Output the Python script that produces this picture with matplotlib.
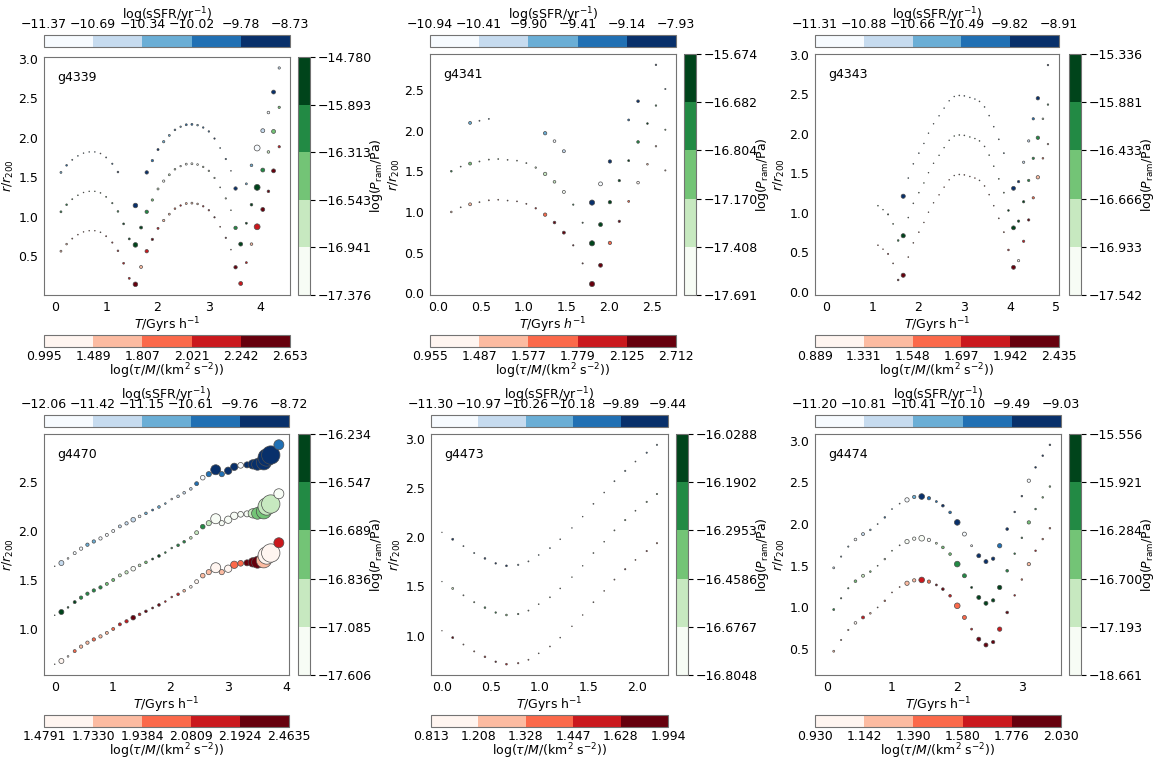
import numpy as np
import matplotlib
matplotlib.use('Agg')
import matplotlib.pyplot as plt
from matplotlib.colors import ListedColormap, BoundaryNorm
import matplotlib.cm as cm

# ---------------- data ----------------
names = ["g4339", "g4341", "g4343", "g4470", "g4473", "g4474"]
# class index 0-4 of each point in its colour bar; -1 = no value (not drawn)

# g4339
T1 = [0.12,0.23,0.34,0.45,0.56,0.67,0.78,0.89,1.00,1.12,1.23,1.34,1.45,1.57,1.68,1.79,1.90,2.01,2.12,2.23,
      2.34,2.45,2.56,2.67,2.78,2.89,3.00,3.11,3.22,3.33,3.43,3.52,3.62,3.73,3.83,3.94,4.05,4.16,4.26,4.37]
R1 = [1.06,1.15,1.22,1.27,1.305,1.32,1.32,1.30,1.25,1.17,1.065,0.907,0.716,0.64,0.86,1.06,1.21,1.35,1.45,1.53,
      1.60,1.64,1.665,1.67,1.66,1.63,1.58,1.49,1.37,1.23,1.08,0.856,0.65,0.915,1.15,1.37,1.59,1.82,2.08,2.386]
S1 = [2,1.5,0.6,0.4,0.3,0.3,0.3,0.4,0.6,0.9,1.5,1.8,2,11,4.5,6,2.8,2.2,2.8,2,
      1.5,1.2,2,2,1.5,1.2,1.2,1,0.5,1,0.4,6,8,2,3.5,18,8,3.5,8,2.8]
CB1 = [2,3,2,2,2,2,2,2,2,3,4,-1,-1,4,-1,4,3,4,2,2,3,2,3,3,2,3,3,4,2,3,1,4,-1,2,2,0,1,0,4,1]
CG1 = [3,3,2,2,2,2,2,2,2,3,3,4,4,4,4,3,2,1,0,1,1,0,0,0,0,1,1,1,1,1,1,3,4,4,4,4,3,1,2,2]
CR1 = [1,1,2,2,2,2,2,2,3,3,3,3,3,4,1,3,4,3,1,1,2,3,1,1,1,3,3,4,2,4,1,4,3,3,1,3,4,4,4,3]

# g4341
T2 = [0.15,0.26,0.37,0.48,0.59,0.70,0.81,0.92,1.03,1.14,1.25,1.36,1.47,1.58,1.69,1.80,1.90,2.01,2.12,2.23,
      2.34,2.45,2.55,2.66]
R2 = [1.50,1.557,1.594,1.62,1.643,1.65,1.64,1.63,1.60,1.545,1.467,1.37,1.246,1.09,0.868,0.615,0.845,1.12,1.385,1.63,
      1.86,2.086,2.307,2.01]
S2 = [1.5,0.5,4.5,0.6,0.6,0.5,0.5,0.5,0.6,1.2,6,3.7,4.7,1,0.8,14,8,5.8,2.8,2,3.7,1.5,1.2,0.8]
CB2 = [-1,-1,2,2,2,-1,-1,-1,-1,-1,2,0,1,-1,-1,4,0,4,-1,3,4,-1,4,2]
CG2 = [3,3,2,2,2,2,1,1,1,1,1,1,0,3,4,4,4,4,4,4,3,4,3,2]
CR2 = [1,1,1,1,2,2,3,3,3,3,2,4,4,4,4,4,4,2,4,2,0,1,1,1]

# g4343
T3 = [1.12,1.23,1.34,1.45,1.56,1.67,1.78,1.89,2.01,2.12,2.22,2.33,2.45,2.56,2.67,2.78,2.89,3.00,3.12,3.23,
      3.33,3.44,3.54,3.64,3.75,3.86,3.96,4.07,4.18,4.29,4.40,4.50,4.60,4.71,4.82]
R3 = [1.09,1.04,0.98,0.86,0.65,0.71,0.94,1.12,1.255,1.378,1.508,1.627,1.728,1.825,1.918,1.972,1.985,1.98,1.96,1.94,
      1.91,1.84,1.73,1.59,1.43,1.255,1.03,0.81,0.895,1.14,1.41,1.69,1.95,2.19,2.37]
S3 = [0.4,0.3,0.8,0.5,1.5,9,0.4,0.4,0.4,0.3,0.3,0.3,0.3,0.3,0.3,0.3,0.4,0.4,0.3,0.3,
      0.4,0.4,0.4,0.4,0.5,0.6,1.5,8,2.8,2.8,2.8,2.8,6,1.5,1.2]
CB3 = [-1,-1,-1,-1,-1,4,2,2,2,2,2,2,2,2,2,2,2,2,2,2,2,2,2,2,2,2,-1,4,4,1,1,3,4,-1,4]
CG3 = [2,2,4,2,3,4,2,2,2,2,2,2,2,2,2,2,2,2,2,2,2,2,2,2,2,2,4,4,4,4,3,3,3,1,3]
CR3 = [2,2,3,2,4,4,2,2,2,2,2,2,2,2,2,2,2,2,2,2,2,2,2,2,2,2,3,4,0,3,4,2,1,2,1]

# g4470
T4 = [0.0,0.115,0.23,0.345,0.455,0.565,0.675,0.79,0.90,1.01,1.125,1.24,1.355,1.465,1.575,1.69,1.80,1.91,2.02,2.13,
      2.235,2.35,2.45,2.556,2.66,2.78,2.885,2.995,3.10,3.21,3.32,3.42,3.50,3.61,3.66,3.73,3.87]
R4 = [1.14,1.173,1.22,1.274,1.32,1.36,1.393,1.424,1.46,1.50,1.547,1.578,1.615,1.649,1.68,1.714,1.745,1.78,1.826,1.854,
      1.89,1.93,1.983,2.044,2.08,2.125,2.08,2.115,2.155,2.17,2.175,2.18,2.18,2.20,2.25,2.275,2.38]
S4 = [0.3,13,1.5,4.7,5.8,5.8,5.8,5.8,4.7,4.7,4.7,5.8,11,3.7,3.7,2,3.7,1.5,1.5,3.7,
      3.7,3.7,8,11,14,52,14,28,28,17,19,45,71,117,156,175,52]
CB4 = [0,1,0,0,0,2,2,0,0,0,1,1,1,0,2,3,2,2,0,1,1,1,3,0,3,4,3,4,4,0,4,4,4,4,4,4,3]
CG4 = [4,4,4,4,3,3,3,3,2,2,1,1,0,1,2,4,4,3,3,3,3,1,1,3,1,0,0,0,0,0,0,1,2,2,1,1,0]
CR4 = [0,0,0,2,1,1,2,1,1,2,3,3,4,3,4,4,4,3,3,3,1,0,0,1,1,0,1,0,2,2,4,4,4,1,0,0,3]

# g4473
T5 = [0.0,0.11,0.22,0.33,0.44,0.55,0.66,0.78,0.885,0.99,1.105,1.21,1.33,1.44,1.55,1.66,1.765,1.875,1.98,2.095,2.2]
R5 = [1.55,1.48,1.41,1.34,1.285,1.235,1.21,1.22,1.255,1.32,1.39,1.48,1.595,1.71,1.84,1.955,2.07,2.175,2.27,2.36,2.44]
S5 = [0.2,2,0.6,0.7,1.5,1.2,1.6,1,0.6,0.4,0.5,0.4,0.3,0.3,0.5,0.4,0.6,0.9,0.5,0.9,0.9]
CB5 = [0,4,2,2,4,4,4,2,2,2,2,1,1,1,1,1,2,2,2,3,2]
CG5 = [1,1,1,2,3,3,2,3,2,1,1,1,1,1,1,1,2,2,2,2,2]
CR5 = [1,4,2,2,3,4,3,3,2,1,1,1,1,1,1,1,2,4,2,3,2]

# g4474
T6 = [0.107,0.22,0.33,0.44,0.556,0.668,0.78,0.89,1.0,1.117,1.23,1.34,1.455,1.566,1.68,1.78,1.89,2.0,2.11,2.22,
      2.33,2.44,2.55,2.65,2.765,2.88,2.99,3.097,3.2,3.31,3.42]
R6 = [0.975,1.11,1.23,1.315,1.38,1.43,1.5,1.58,1.68,1.745,1.79,1.825,1.83,1.81,1.77,1.72,1.64,1.52,1.38,1.24,
      1.12,1.05,1.085,1.24,1.44,1.645,1.835,2.02,2.18,2.32,2.45]
S6 = [2,0.9,0.9,3.7,4.7,1.5,0.5,1.4,0.5,0.5,9.7,5.8,16.7,5.8,2,3.7,3.7,16.7,8.3,2,
      8.3,8.3,5.8,9.7,3.7,1.4,1.4,5.8,1.4,1.4,1.4]
CB6 = [1,2,2,0,1,2,2,3,2,2,0,2,4,3,3,4,3,4,0,0,4,4,4,3,4,4,4,0,4,4,4]
CG6 = [3,4,3,2,1,2,2,1,2,2,0,0,0,0,1,2,2,3,3,4,4,4,4,4,3,3,3,2,3,2,2]
CR6 = [1,1,1,0,3,1,2,2,2,2,1,1,3,2,4,4,3,2,2,3,4,4,4,3,4,3,2,1,3,2,2]

# colour-bar boundaries (as printed)
sfr_bounds = [
    ["-11.37","-10.69","-10.34","-10.02","-9.78","-8.73"],
    ["-10.94","-10.41","-9.90","-9.41","-9.14","-7.93"],
    ["-11.31","-10.88","-10.66","-10.49","-9.82","-8.91"],
    ["-12.06","-11.42","-11.15","-10.61","-9.76","-8.72"],
    ["-11.30","-10.97","-10.26","-10.18","-9.89","-9.44"],
    ["-11.20","-10.81","-10.41","-10.10","-9.49","-9.03"],
]
pram_bounds = [
    ["-17.376","-16.941","-16.543","-16.313","-15.893","-14.780"],
    ["-17.691","-17.408","-17.170","-16.804","-16.682","-15.674"],
    ["-17.542","-16.933","-16.666","-16.433","-15.881","-15.336"],
    ["-17.606","-17.085","-16.836","-16.689","-16.547","-16.234"],
    ["-16.8048","-16.6767","-16.4586","-16.2953","-16.1902","-16.0288"],
    ["-18.661","-17.193","-16.700","-16.284","-15.921","-15.556"],
]
tau_bounds = [
    ["0.995","1.489","1.807","2.021","2.242","2.653"],
    ["0.955","1.487","1.577","1.779","2.125","2.712"],
    ["0.889","1.331","1.548","1.697","1.942","2.435"],
    ["1.4791","1.7330","1.9384","2.0809","2.1924","2.4635"],
    ["0.813","1.208","1.328","1.447","1.628","1.994"],
    ["0.930","1.142","1.390","1.580","1.776","2.030"],
]

Ts = [T1, T2, T3, T4, T5, T6]
Rs = [R1, R2, R3, R4, R5, R6]
Ss = [S1, S2, S3, S4, S5, S6]
CBs = [CB1, CB2, CB3, CB4, CB5, CB6]
CGs = [CG1, CG2, CG3, CG4, CG5, CG6]
CRs = [CR1, CR2, CR3, CR4, CR5, CR6]

# ---------------- layout ----------------
W, H = 1159, 760
plt.rcParams['font.family'] = ['DejaVu Sans']
plt.rcParams['font.size'] = 9
fig = plt.figure(figsize=(W/100, H/100), dpi=100)

def box(l, t, r, b):
    return [l/W, 1 - b/H, (r-l)/W, (b-t)/H]

# (ax left, ax top, ax right, ax bottom, top cbar top, right cbar left, bottom cbar top)
layout = [
    (44, 57, 290, 295, 35, 298, 335),
    (430, 54, 676, 295, 35, 684, 335),
    (815, 54, 1059, 295, 35, 1069, 335),
    (44, 434, 289, 675, 415, 298, 715),
    (431, 434, 668, 675, 415, 676, 715),
    (815, 434, 1061, 675, 415, 1069, 715),
]
xlims = [(-0.21, 4.58), (-0.10, 2.785), (-0.25, 5.06), (-0.185, 4.045), (-0.112, 2.313), (-0.18, 3.59)]
ylims = [(0.004, 3.025), (-0.02, 2.94), (-0.04, 3.01), (0.53, 2.99), (0.60, 3.05), (0.19, 3.08)]
xlabels = ["$T$/Gyrs h$^{-1}$", "$T$/Gyrs $h^{-1}$", "$T$/Gyrs h$^{-1}$",
           "$T$/Gyrs h$^{-1}$", "$T$/Gyrs h$^{-1}$", "$T$/Gyrs h$^{-1}$"]

blues = plt.get_cmap('Blues')(np.linspace(0, 1, 5))
greens = plt.get_cmap('Greens')(np.linspace(0, 1, 5))
reds = plt.get_cmap('Reds')(np.linspace(0, 1, 5))
cls_norm = BoundaryNorm(np.arange(-0.5, 5.5, 1.0), 5)
frame_col = '0.45'

def make_cbar(rect, colors, bstr, orient, label, where):
    cax = fig.add_axes(rect)
    bounds = [float(b) for b in bstr]
    labels = [b.replace('-', '\u2212') for b in bstr]
    sm = cm.ScalarMappable(norm=BoundaryNorm(bounds, 5), cmap=ListedColormap(colors))
    cb = fig.colorbar(sm, cax=cax, orientation=orient, ticks=bounds, spacing='uniform')
    cb.set_ticks(bounds, labels=labels)
    cb.outline.set_edgecolor(frame_col)
    cb.outline.set_linewidth(0.8)
    if orient == 'horizontal':
        if where == 'top':
            cax.xaxis.set_ticks_position('top')
            cax.xaxis.set_label_position('top')
            cax.tick_params(axis='x', length=0, pad=3)
            cb.set_label(label, labelpad=-1)
        else:
            cax.tick_params(axis='x', length=0, pad=2)
            cb.set_label(label, labelpad=-1)
    else:
        cax.tick_params(axis='y', length=3.5, width=0.8, color='k', pad=2)
        cb.set_label(label, labelpad=-3)
    return cb

for i in range(6):
    l, t, r, b, tt, rl, bt = layout[i]
    ax = fig.add_axes(box(l, t, r, b))
    T = np.array(Ts[i]); R = np.array(Rs[i]); S = np.array(Ss[i])
    for cls, off, cols in [(CBs[i], 0.5, blues), (CGs[i], 0.0, greens), (CRs[i], -0.5, reds)]:
        cls = np.array(cls)
        m = cls >= 0
        ax.scatter(T[m], R[m] + off, s=S[m], c=cls[m], cmap=ListedColormap(cols), norm=cls_norm,
                   edgecolors='0.3', linewidths=0.5, zorder=3)
    ax.set_xlim(*xlims[i])
    ax.set_ylim(*ylims[i])
    ax.tick_params(length=0, pad=4)
    for sp in ax.spines.values():
        sp.set_edgecolor(frame_col)
        sp.set_linewidth(0.8)
    ax.set_xlabel(xlabels[i], labelpad=1)
    ax.set_ylabel("$r/r_{200}$", labelpad=2)
    ax.text(0.055, 0.915, names[i], transform=ax.transAxes, ha='left', va='center', fontsize=9)

    make_cbar(box(l, tt, r, tt + 12), blues, sfr_bounds[i], 'horizontal',
              "log(sSFR/yr$^{-1}$)", 'top')
    make_cbar(box(rl, t, rl + 12, b), greens, pram_bounds[i], 'vertical',
              "log($P_{\\rm ram}$/Pa)", 'right')
    make_cbar(box(l, bt, r, bt + 12), reds, tau_bounds[i], 'horizontal',
              "log($\\tau/M$/(km$^2$ s$^{-2}$))", 'bottom')

fig.savefig('out.png', dpi=100)
